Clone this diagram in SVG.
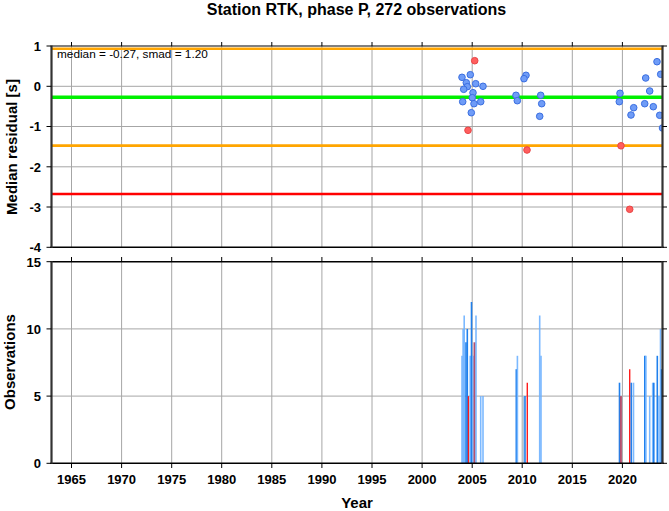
<svg xmlns="http://www.w3.org/2000/svg" width="669" height="511" viewBox="0 0 669 511">
<style>
text{font-family:"Liberation Sans",Arial,sans-serif;fill:#000}
.t{font-size:16px;font-weight:bold}
.ax{font-size:15px;font-weight:bold}
.tk{font-size:13px;font-weight:bold}
.note{font-size:11.8px}
.grid{stroke:#a6a6a6;stroke-width:1;fill:none}
.tick{stroke:#000;stroke-width:1;fill:none}
.side{stroke:#333;stroke-width:2.2;fill:none}
.hz{stroke:#000;stroke-width:1.6;fill:none}
.thin{stroke:#000;stroke-width:1;fill:none}
.pb{fill:#6f9cf7;stroke:#3a6ee0;stroke-width:1}
.pr{fill:#ff5e5e;stroke:#e84545;stroke-width:1}
.lb{stroke:#6eb2ff;stroke-width:1.6;opacity:0.9}
.db{stroke:#2080ec;stroke-width:1.6}
.rd{stroke:#ff1c1c;stroke-width:1.4}
.mv{stroke:#b4506e;stroke-width:2}
</style>
<defs>
<clipPath id="topclip"><rect x="51.5" y="46" width="611" height="201.3"/></clipPath>
</defs>
<rect width="669" height="511" fill="#fff"/>
<text class="t" x="356.5" y="15" text-anchor="middle">Station RTK, phase P, 272 observations</text>

<g id="top-panel">
<g class="grid">
<path d="M71.5 46V247.3M121.6 46V247.3M171.7 46V247.3M221.7 46V247.3M271.8 46V247.3M321.9 46V247.3M372 46V247.3M422.1 46V247.3M472.2 46V247.3M522.2 46V247.3M572.3 46V247.3M622.4 46V247.3"/>
<path d="M51.5 86.3H662.5M51.5 126.5H662.5M51.5 166.8H662.5M51.5 207H662.5"/>
</g>
<g id="ref-lines">
<line x1="51.5" y1="48.8" x2="662.5" y2="48.8" stroke="#ffa500" stroke-width="2.6"/>
<line x1="51.5" y1="145.6" x2="662.5" y2="145.6" stroke="#ffa500" stroke-width="2.6"/>
<line x1="51.5" y1="97.2" x2="662.5" y2="97.2" stroke="#00f000" stroke-width="3.6"/>
<line x1="51.5" y1="194" x2="662.5" y2="194" stroke="#ff0000" stroke-width="2.6"/>
</g>
<g id="points" clip-path="url(#topclip)">
<circle class="pb" cx="462" cy="77.3" r="3.3"/>
<circle class="pb" cx="470.3" cy="74.7" r="3.3"/>
<circle class="pb" cx="466.3" cy="82.7" r="3.3"/>
<circle class="pb" cx="467.3" cy="86.7" r="3.3"/>
<circle class="pb" cx="463.7" cy="89.3" r="3.3"/>
<circle class="pb" cx="475.7" cy="83.7" r="3.3"/>
<circle class="pb" cx="483" cy="86.3" r="3.3"/>
<circle class="pb" cx="473" cy="92.7" r="3.3"/>
<circle class="pb" cx="472.3" cy="97.7" r="3.3"/>
<circle class="pb" cx="462.7" cy="101.7" r="3.3"/>
<circle class="pb" cx="474" cy="103.7" r="3.3"/>
<circle class="pb" cx="480.7" cy="101.7" r="3.3"/>
<circle class="pb" cx="471.3" cy="112.7" r="3.3"/>
<circle class="pb" cx="526" cy="75.3" r="3.3"/>
<circle class="pb" cx="524" cy="78.7" r="3.3"/>
<circle class="pb" cx="516" cy="95.3" r="3.3"/>
<circle class="pb" cx="517.3" cy="100.7" r="3.3"/>
<circle class="pb" cx="540.7" cy="95.3" r="3.3"/>
<circle class="pb" cx="541.7" cy="103.7" r="3.3"/>
<circle class="pb" cx="539.7" cy="116.3" r="3.3"/>
<circle class="pb" cx="620" cy="93.3" r="3.3"/>
<circle class="pb" cx="619.3" cy="101.7" r="3.3"/>
<circle class="pb" cx="633.7" cy="107.7" r="3.3"/>
<circle class="pb" cx="631" cy="115" r="3.3"/>
<circle class="pb" cx="644.7" cy="103.7" r="3.3"/>
<circle class="pb" cx="645.7" cy="78" r="3.3"/>
<circle class="pb" cx="649.7" cy="91" r="3.3"/>
<circle class="pb" cx="653.3" cy="106.7" r="3.3"/>
<circle class="pb" cx="657" cy="61.7" r="3.3"/>
<circle class="pb" cx="660.7" cy="74.3" r="3.3"/>
<circle class="pb" cx="659.7" cy="115.3" r="3.3"/>
<circle class="pb" cx="662.5" cy="128" r="3.3"/>
<circle class="pr" cx="474.7" cy="60.7" r="3.3"/>
<circle class="pr" cx="468" cy="130.3" r="3.3"/>
<circle class="pr" cx="527" cy="150" r="3.3"/>
<circle class="pr" cx="621" cy="145.8" r="3.3"/>
<circle class="pr" cx="629.7" cy="209.3" r="3.3"/>
</g>
<text class="note" x="57" y="58">median = -0.27, smad = 1.20</text>
<g id="top-frame">
<line class="thin" x1="51.5" y1="46" x2="662.5" y2="46"/>
<line class="hz" x1="50.4" y1="247.3" x2="663.6" y2="247.3"/>
<line class="side" x1="51.5" y1="45.5" x2="51.5" y2="248"/>
<line class="side" x1="662.5" y1="45.5" x2="662.5" y2="248"/>
<path class="tick" d="M71.5 46V42M121.6 46V42M171.7 46V42M221.7 46V42M271.8 46V42M321.9 46V42M372 46V42M422.1 46V42M472.2 46V42M522.2 46V42M572.3 46V42M622.4 46V42"/>
<path class="tick" d="M46.5 46H51.5M46.5 86.3H51.5M46.5 126.5H51.5M46.5 166.8H51.5M46.5 207H51.5M46.5 247.3H51.5"/>
<path class="tick" d="M662.5 46H667M662.5 86.3H667M662.5 126.5H667M662.5 166.8H667M662.5 207H667M662.5 247.3H667"/>
</g>
<g class="tk" text-anchor="end">
<text x="41" y="51">1</text>
<text x="41" y="91">0</text>
<text x="41" y="131">-1</text>
<text x="41" y="171.5">-2</text>
<text x="41" y="211.5">-3</text>
<text x="41" y="252">-4</text>
</g>
<text class="ax" transform="translate(17 147) rotate(-90)" text-anchor="middle">Median residual [s]</text>
</g>

<g id="bottom-panel">
<g class="grid">
<path d="M71.5 261.7V463.3M121.6 261.7V463.3M171.7 261.7V463.3M221.7 261.7V463.3M271.8 261.7V463.3M321.9 261.7V463.3M372 261.7V463.3M422.1 261.7V463.3M472.2 261.7V463.3M522.2 261.7V463.3M572.3 261.7V463.3M622.4 261.7V463.3"/>
<path d="M51.5 396.1H662.5M51.5 328.9H662.5"/>
</g>
<g id="bars">
<line class="lb" x1="462" y1="463.3" x2="462" y2="355.8"/>
<line class="lb" x1="463.1" y1="463.3" x2="463.1" y2="328.9"/>
<line class="lb" x1="464.2" y1="463.3" x2="464.2" y2="315.5"/>
<line class="db" x1="466" y1="463.3" x2="466" y2="342.3"/>
<line class="db" x1="467.3" y1="463.3" x2="467.3" y2="328.9"/>
<line class="rd" x1="468.5" y1="463.3" x2="468.5" y2="396.1"/>
<line class="lb" x1="470.2" y1="463.3" x2="470.2" y2="355.8"/>
<line class="db" x1="471.5" y1="463.3" x2="471.5" y2="302"/>
<line class="lb" x1="473" y1="463.3" x2="473" y2="355.8"/>
<line class="mv" x1="474.5" y1="463.3" x2="474.5" y2="342.3"/>
<line class="lb" x1="476" y1="463.3" x2="476" y2="315.5"/>
<line class="lb" x1="480.7" y1="463.3" x2="480.7" y2="396.1"/>
<line class="lb" x1="483" y1="463.3" x2="483" y2="396.1"/>
<line class="db" x1="516.3" y1="463.3" x2="516.3" y2="369.2"/>
<line class="lb" x1="517.4" y1="463.3" x2="517.4" y2="355.8"/>
<line class="lb" x1="523.7" y1="463.3" x2="523.7" y2="396.1" style="stroke:#a8c2e0"/>
<line class="db" x1="525" y1="463.3" x2="525" y2="396.1"/>
<line class="rd" x1="527.3" y1="463.3" x2="527.3" y2="382.7"/>
<line class="lb" x1="539.7" y1="463.3" x2="539.7" y2="315.5"/>
<line class="lb" x1="541" y1="463.3" x2="541" y2="355.8"/>
<line class="db" x1="619.5" y1="463.3" x2="619.5" y2="382.7"/>
<line class="mv" x1="620.9" y1="463.3" x2="620.9" y2="396.1"/>
<line class="rd" x1="629.7" y1="463.3" x2="629.7" y2="369.2"/>
<line class="db" x1="631.3" y1="463.3" x2="631.3" y2="382.7"/>
<line class="lb" x1="633.5" y1="463.3" x2="633.5" y2="382.7"/>
<line class="db" x1="644.8" y1="463.3" x2="644.8" y2="355.8"/>
<line class="lb" x1="645.9" y1="463.3" x2="645.9" y2="355.8"/>
<line class="lb" x1="649.7" y1="463.3" x2="649.7" y2="396.1"/>
<line class="lb" x1="652.7" y1="463.3" x2="652.7" y2="382.7"/>
<line class="db" x1="653.8" y1="463.3" x2="653.8" y2="382.7"/>
<line class="db" x1="657.3" y1="463.3" x2="657.3" y2="355.8"/>
<line class="lb" x1="659" y1="463.3" x2="659" y2="396.1"/>
<line class="lb" x1="660.5" y1="463.3" x2="660.5" y2="328.9"/>
<line class="db" x1="661.6" y1="463.3" x2="661.6" y2="369.2"/>
</g>
<g id="bottom-frame">
<line class="hz" x1="51.5" y1="261.7" x2="662.5" y2="261.7"/>
<line class="hz" x1="50.4" y1="463.3" x2="663.6" y2="463.3"/>
<line class="side" x1="51.5" y1="261" x2="51.5" y2="464"/>
<line class="side" x1="662.5" y1="261" x2="662.5" y2="464"/>
<path class="tick" d="M71.5 261.7V257M121.6 261.7V257M171.7 261.7V257M221.7 261.7V257M271.8 261.7V257M321.9 261.7V257M372 261.7V257M422.1 261.7V257M472.2 261.7V257M522.2 261.7V257M572.3 261.7V257M622.4 261.7V257"/>
<path class="tick" d="M71.5 463.3V468M121.6 463.3V468M171.7 463.3V468M221.7 463.3V468M271.8 463.3V468M321.9 463.3V468M372 463.3V468M422.1 463.3V468M472.2 463.3V468M522.2 463.3V468M572.3 463.3V468M622.4 463.3V468"/>
<path class="tick" d="M46.5 261.7H51.5M46.5 328.9H51.5M46.5 396.1H51.5M46.5 463.3H51.5"/>
<path class="tick" d="M662.5 261.7H667M662.5 328.9H667M662.5 396.1H667M662.5 463.3H667"/>
</g>
<g class="tk" text-anchor="end">
<text x="41" y="266.5">15</text>
<text x="41" y="333.5">10</text>
<text x="41" y="400.8">5</text>
<text x="41" y="468">0</text>
</g>
<g class="tk" text-anchor="middle">
<text x="71.5" y="484">1965</text>
<text x="121.6" y="484">1970</text>
<text x="171.7" y="484">1975</text>
<text x="221.7" y="484">1980</text>
<text x="271.8" y="484">1985</text>
<text x="321.9" y="484">1990</text>
<text x="372" y="484">1995</text>
<text x="422.1" y="484">2000</text>
<text x="472.2" y="484">2005</text>
<text x="522.2" y="484">2010</text>
<text x="572.3" y="484">2015</text>
<text x="622.4" y="484">2020</text>
</g>
<text class="ax" x="357" y="508" text-anchor="middle">Year</text>
<text class="ax" transform="translate(15 362) rotate(-90)" text-anchor="middle">Observations</text>
</g>
</svg>
